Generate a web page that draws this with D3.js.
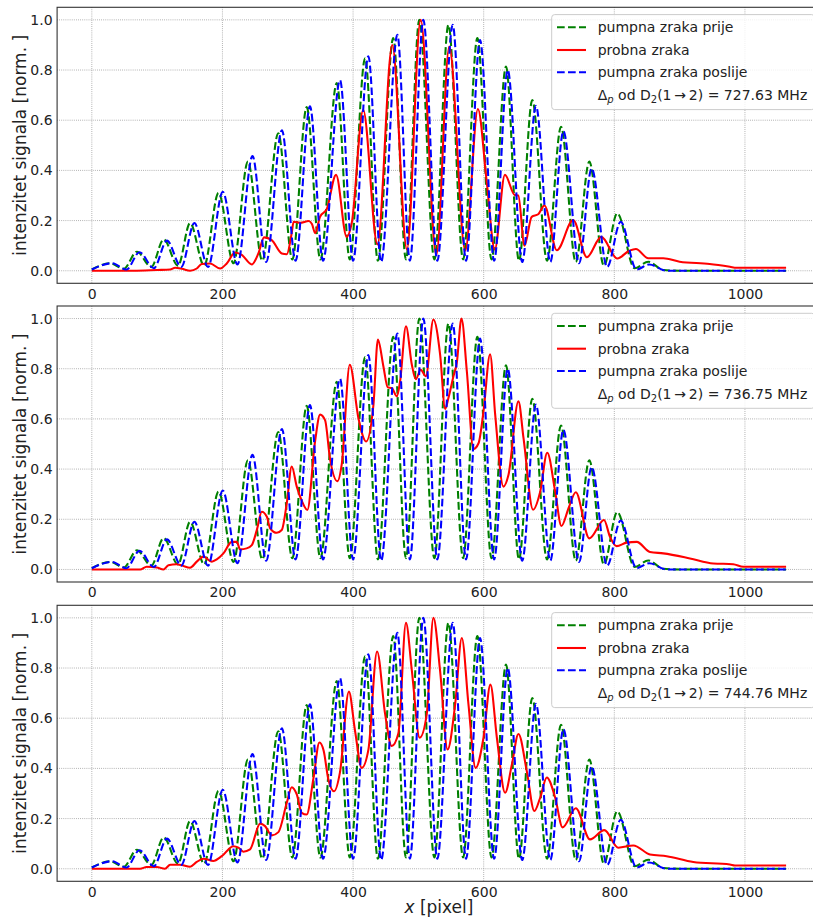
<!DOCTYPE html>
<html><head><meta charset="utf-8">
<script src="https://cdn.jsdelivr.net/npm/d3@7"></script>
<style>
html,body{margin:0;padding:0;background:#fff;}
svg{display:block;overflow:hidden;}
text{font-family:"DejaVu Sans",sans-serif;fill:#222;}
</style></head><body>
<svg id="chart" width="813" height="919"></svg>
<script>
// ---------------- data ----------------
const xTicks = [0, 200, 400, 600, 800, 1000];
const yTicks = [0.0, 0.2, 0.4, 0.6, 0.8, 1.0];
const legendLabels = ["pumpna zraka prije", "probna zraka", "pumpna zraka poslije"];
const detunings = ["727.63", "736.75", "744.76"];

// pump beam before (green), same in all panels
const pumpBeforeX = [0,28,49,69,91,110,132,150.5,172,194,217,239,261,285.5,307,329,350,375,395,418.5,438,461.5,481,501.5,524.5,546,568.5,590.3,612,634.2,654,674.4,697,718.4,741,761.7,784,804.5,831,852,875,900,1063];
const pumpBeforeY = [0.005,0.03,0.008,0.076,0.015,0.125,0.02,0.19,0.02,0.31,0.03,0.435,0.04,0.548,0.045,0.652,0.045,0.748,0.045,0.847,0.04,0.927,0.045,1.0,0.045,0.98,0.045,0.927,0.045,0.814,0.04,0.68,0.04,0.574,0.035,0.435,0.02,0.229,0.01,0.036,0.003,0.0,0.0];

// pump beam after (blue), same in all panels
const pumpAfterX = [0,31,53,73,95,115,137,157,178,200.5,223,246,267,291,312,334,354,380,400,423.4,443,467.8,487,507.6,529,552.6,573,594.4,616,636.8,659,680,702,722,746,765.3,789,809.7,834,853.5,880,1063];
const pumpAfterY = [0.005,0.03,0.005,0.074,0.01,0.12,0.015,0.19,0.015,0.315,0.025,0.457,0.035,0.56,0.04,0.655,0.04,0.76,0.04,0.855,0.035,0.94,0.04,1.0,0.04,0.98,0.04,0.92,0.04,0.80,0.035,0.657,0.035,0.556,0.03,0.408,0.015,0.195,0.005,0.025,0.0,0.0];

// probe beam (red), one per panel
const probe1X = [0,64,100,120,127.6,138,150.5,160.7,168.4,181,196.4,206.6,219.4,229.6,245,255,263.8,275.5,290.8,298.5,306,309,319,332,337,342,349.4,359.6,374,390.2,397.9,415.5,437.3,460,482.5,503.5,527.5,547.3,571.8,591.2,604.5,617,632.5,647.5,653,662.5,673.5,683.5,693,712,737,758,780,804.5,823,833,852,875,900,946,977,987,1063];
const probe1Y = [0,0,0.003,0.005,0.012,0.008,0,0.009,0.027,0.029,0.009,0.029,0.073,0.063,0.025,0.069,0.133,0.122,0.069,0.066,0.149,0.195,0.191,0.198,0.186,0.15,0.215,0.245,0.382,0.135,0.189,0.641,0.105,0.9,0.085,1.0,0.063,0.894,0.08,0.645,0.358,0.085,0.382,0.302,0.3,0.1,0.215,0.225,0.26,0.082,0.202,0.054,0.135,0.049,0.08,0.087,0.05,0.05,0.036,0.027,0.016,0.012,0.012];

const probe2X = [0,74,84,99.5,109.7,117.3,130,138,150.5,160.7,171,183.7,191.3,201.5,214.3,222,227,237,245,252.6,260.2,268,273,283.2,290.8,298.5,306.1,313.8,321.4,330,341.8,349.5,357.1,364.8,376,382.7,395,408.2,420,431.2,438,446.4,453,459.2,467,472,481,490,496,503.6,511.5,523,533.3,541,546,553.7,558.8,566,574.2,584.3,592.1,599.7,609.8,617.6,630.2,638,653.2,661,675.6,686.5,697.3,709.5,719,729.9,741,761.7,784.2,793.4,803.6,818.9,834.2,854.6,875,915.8,951.5,982,997.4,1063];
const probe2Y = [0,0,0.011,0.008,0,0.017,0.021,0.016,0.007,0.031,0.051,0.031,0.04,0.064,0.11,0.11,0.08,0.084,0.097,0.157,0.23,0.21,0.164,0.146,0.157,0.264,0.41,0.33,0.274,0.237,0.51,0.617,0.595,0.44,0.352,0.42,0.816,0.603,0.51,0.656,0.916,0.81,0.726,0.723,0.69,0.75,0.969,0.816,0.758,0.796,0.77,0.996,0.856,0.64,0.683,0.77,0.823,1.0,0.79,0.48,0.503,0.63,0.858,0.617,0.33,0.377,0.67,0.523,0.238,0.31,0.465,0.31,0.173,0.244,0.308,0.124,0.197,0.13,0.093,0.107,0.11,0.07,0.064,0.044,0.024,0.021,0.011,0.011];

const probe3X = [0,74,84,99.5,112,120,135,150.5,160.7,171,186,199,216.8,224.5,232,242.3,257.7,265.3,275.5,285.7,298.5,306.1,313.8,321.4,329,339.3,348.5,355,362.2,371,380,393.6,403,413.2,423.5,436.8,449,459.2,469.4,481,490,502,512.8,523,533.3,544.7,556.3,566.5,576.7,587.6,599.7,610.3,620.2,632.8,643.2,653.2,666,677.5,686.5,696.6,709.5,720.8,741,762.8,784.7,806.2,829.1,854.6,880.1,920.9,977,984.7,1063];
const probe3Y = [0,0,0.007,0.007,0,0.016,0.016,0.008,0.027,0.04,0.031,0.05,0.09,0.084,0.068,0.077,0.18,0.17,0.133,0.146,0.263,0.325,0.296,0.223,0.216,0.36,0.503,0.47,0.356,0.309,0.385,0.706,0.55,0.402,0.475,0.866,0.618,0.489,0.54,0.98,0.79,0.522,0.615,1.0,0.788,0.475,0.655,0.92,0.655,0.402,0.522,0.734,0.522,0.303,0.416,0.537,0.389,0.23,0.283,0.364,0.283,0.165,0.241,0.117,0.154,0.084,0.093,0.057,0.05,0.027,0.017,0.013,0.013];

const probeX = [probe1X, probe2X, probe3X];
const probeY = [probe1Y, probe2Y, probe3Y];

// ---------------- layout ----------------
const svg = d3.select("#chart");
const axLeft = 57.1, axRight = 820.8, axH = 276;
const panelTops = [7.3, 306.0, 605.3];
const x = d3.scaleLinear().domain([-53.15, 1116.15]).range([axLeft, axRight]);

const cGreen = "#008000", cRed = "#ff0000", cBlue = "#0000ff";
const lw = 2.08;
const dash = "7.7,3.3";

function zip(xs, ys){ return xs.map((v,i)=>[v, ys[i]]); }

panelTops.forEach((top, pi) => {
  const y = d3.scaleLinear().domain([-0.05, 1.05]).range([top + axH, top]);
  const g = svg.append("g");

  // grid
  g.selectAll(".gx").data(xTicks).enter().append("line")
    .attr("x1", d=>x(d)).attr("x2", d=>x(d)).attr("y1", top).attr("y2", top+axH)
    .attr("stroke", "#8a8a8a").attr("stroke-width", 0.8).attr("stroke-dasharray", "0.8,1.3");
  g.selectAll(".gy").data(yTicks).enter().append("line")
    .attr("x1", axLeft).attr("x2", axRight).attr("y1", d=>y(d)).attr("y2", d=>y(d))
    .attr("stroke", "#8a8a8a").attr("stroke-width", 0.8).attr("stroke-dasharray", "0.8,1.3");

  // lines
  const line = d3.line().x(d=>x(d[0])).y(d=>y(d[1])).curve(d3.curveMonotoneX);
  const clipId = "clip" + pi;
  svg.append("clipPath").attr("id", clipId).append("rect")
    .attr("x", axLeft).attr("y", top).attr("width", axRight-axLeft).attr("height", axH);
  const lg = g.append("g").attr("clip-path", `url(#${clipId})`);
  lg.append("path").datum(zip(pumpBeforeX, pumpBeforeY)).attr("d", line)
    .attr("fill","none").attr("stroke", cGreen).attr("stroke-width", lw).attr("stroke-dasharray", dash);
  lg.append("path").datum(zip(probeX[pi], probeY[pi])).attr("d", line)
    .attr("fill","none").attr("stroke", cRed).attr("stroke-width", lw).attr("stroke-linejoin","round");
  lg.append("path").datum(zip(pumpAfterX, pumpAfterY)).attr("d", line)
    .attr("fill","none").attr("stroke", cBlue).attr("stroke-width", lw).attr("stroke-dasharray", dash);

  // axes (no visible tick marks)
  const xAxis = d3.axisBottom(x).tickValues(xTicks).tickFormat(d3.format("d"))
    .tickSize(0).tickPadding(5.5);
  const gx = g.append("g").attr("transform", `translate(0,${top+axH})`).call(xAxis);
  const yAxis = d3.axisLeft(y).tickValues(yTicks).tickFormat(d3.format(".1f"))
    .tickSize(0).tickPadding(4.5);
  const gy = g.append("g").attr("transform", `translate(${axLeft},0)`).call(yAxis);
  [gx, gy].forEach(a => {
    a.select(".domain").remove();
    a.selectAll(".tick line").remove();
    a.selectAll("text").attr("font-size", "14px").attr("fill", "#222")
      .attr("font-family", "DejaVu Sans");
  });

  // frame
  g.append("rect").attr("x", axLeft).attr("y", top).attr("width", axRight-axLeft).attr("height", axH)
    .attr("fill", "none").attr("stroke", "#333").attr("stroke-width", 1.1);

  // y label
  g.append("text").attr("transform", `translate(26,${top+axH/2}) rotate(-90)`)
    .attr("text-anchor", "middle")
    .attr("font-size", "17px").text("intenzitet signala [norm.\u00a0]");

  // legend
  const lgX = 551.7, lgY = top + 7.3;
  g.append("rect").attr("x", lgX).attr("y", lgY).attr("width", 263).attr("height", 95)
    .attr("rx", 3).attr("fill", "#fff").attr("fill-opacity", 0.8)
    .attr("stroke", "#cccccc").attr("stroke-width", 1);
  const rowY = [20, 42.7, 65, 87.7].map(v => top + v);
  const styles = [[cGreen, dash], [cRed, null], [cBlue, dash]];
  legendLabels.forEach((lab, i) => {
    const l = g.append("line").attr("x1", 557).attr("x2", 586).attr("y1", rowY[i]).attr("y2", rowY[i])
      .attr("stroke", styles[i][0]).attr("stroke-width", lw);
    if (styles[i][1]) l.attr("stroke-dasharray", styles[i][1]);
    g.append("text").attr("x", 597.7).attr("y", rowY[i]).attr("dy", "0.36em")
      .attr("font-size", "14px").text(lab);
  });
  const t = g.append("text").attr("x", 597.7).attr("y", rowY[3]).attr("dy", "0.36em").attr("font-size", "14px");
  t.append("tspan").text("Δ");
  t.append("tspan").attr("font-style", "italic").attr("font-size", "10px").attr("dy", 3).text("p");
  t.append("tspan").attr("dy", -3).text(" od D");
  t.append("tspan").attr("font-size", "10px").attr("dy", 3).text("2");
  t.append("tspan").attr("dy", -3).text("(1\u2009\u2192\u20092) = " + detunings[pi] + " MHz");
});

// x label
const xl = svg.append("text").attr("x", (axLeft+axRight)/2).attr("y", 913)
  .attr("text-anchor", "middle").attr("font-size", "17px");
xl.append("tspan").attr("font-style", "italic").text("x");
xl.append("tspan").text(" [pixel]");
</script>
</body></html>
